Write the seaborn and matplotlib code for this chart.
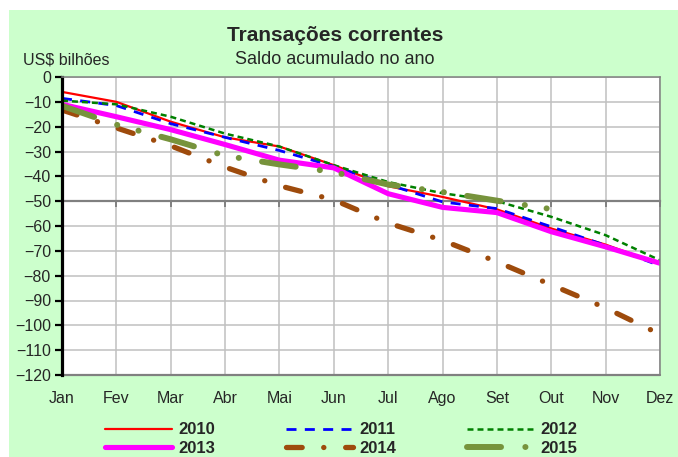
import numpy as np
import matplotlib
matplotlib.use('Agg')
import matplotlib.pyplot as plt
import seaborn as sns
from matplotlib.patches import Rectangle

# Saldo acumulado no ano (US$ bilhões)
meses = ['Jan', 'Fev', 'Mar', 'Abr', 'Mai', 'Jun', 'Jul', 'Ago', 'Set', 'Out', 'Nov', 'Dez']
saldo_2010 = [-6.0, -10.0, -18.0, -24.3, -28.0, -35.5, -44.0, -48.3, -53.3, -61.0, -67.5, -75.3]
saldo_2011 = [-8.6, -11.5, -18.8, -24.3, -29.6, -36.0, -43.3, -50.3, -53.0, -60.3, -67.8, -76.0]
saldo_2012 = [-9.5, -11.0, -16.0, -22.8, -28.0, -35.5, -42.3, -46.8, -50.0, -56.3, -63.7, -73.8]
saldo_2013 = [-11.0, -16.0, -21.2, -27.2, -33.5, -36.6, -47.0, -52.5, -54.6, -62.3, -68.4, -75.0]
saldo_2014 = [-13.3, -20.5, -27.7, -36.3, -43.8, -49.5, -58.8, -65.8, -74.4, -83.7, -93.0, -103.6]
saldo_2015 = [-11.6, -19.2, -25.1, -31.7, -35.2, -38.3, -43.3, -46.3, -49.8, -53.2]

anos = ['2010', '2011', '2012', '2013', '2014', '2015']
series = [saldo_2010, saldo_2011, saldo_2012, saldo_2013, saldo_2014, saldo_2015]

# estilos (cor, espessura, traço)
estilos = [
    dict(color='#FF0000', lw=1.6, linestyle='-'),
    dict(color='#0000FF', lw=2.0, linestyle=(0, (7.2, 6))),
    dict(color='#008000', lw=1.8, linestyle=(0, (4.3, 2.9))),
    dict(color='#FF00FF', lw=3.7, linestyle='-', solid_capstyle='round'),
    dict(color='#9E4B0C', lw=3.8, linestyle=(0, (11.3, 15.5, 0.1, 15.7)), dash_capstyle='round'),
    dict(color='#77933C', lw=4.3, linestyle=(0, (24.5, 17.5, 0.1, 15.8, 0.1, 16.9)), dash_capstyle='round'),
]

sns.set_style('white')
plt.rcParams['font.family'] = ['Liberation Sans', 'DejaVu Sans']
plt.rcParams['lines.scale_dashes'] = False

W, H = 678, 457
fig = plt.figure(figsize=(W / 100, H / 100), dpi=100)
fig.patch.set_facecolor('white')
fig.add_artist(Rectangle((9 / W, 0), 1 - 9 / W, (H - 10) / H, transform=fig.transFigure,
                         facecolor='#CCFFCC', edgecolor='none', zorder=-1))

ax = fig.add_axes([62 / W, 1 - 375 / H, 598 / W, 298 / H])
ax.set_facecolor('white')

pos = np.arange(len(meses))
handles = []
for ano, vals, st in zip(anos, series, estilos):
    sns.lineplot(x=pos[:len(vals)], y=vals, ax=ax, errorbar=None, sort=False, **st)
    handles.append(ax.lines[-1])

ax.set_xlim(0, 11)
ax.set_ylim(-120, 0)
ax.set_yticks(np.arange(-120, 1, 10))
ax.set_xticks(pos)
ax.grid(True, color='#C0C0C0', lw=1.1)
ax.set_axisbelow(True)

# eixo horizontal cruza em -50, rótulos embaixo
ax.spines['bottom'].set_position(('data', -50))
ax.spines['bottom'].set_color('#808080')
ax.spines['bottom'].set_linewidth(1.6)
ax.spines['bottom'].set_zorder(1.5)
ax.spines['left'].set_color('black')
ax.spines['left'].set_linewidth(2.3)
for s in ['top', 'right']:
    ax.spines[s].set_color('#808080')
    ax.spines[s].set_linewidth(1.1)
ax.axhline(-120, color='#808080', lw=1.6, clip_on=False, zorder=1.5)

ax.tick_params(axis='x', bottom=True, direction='out', length=4, width=1.4,
               color='#808080', labelbottom=False)
ax.tick_params(axis='y', left=True, direction='out', length=5, width=1.6,
               color='black', labelsize=11.5, pad=3)

sec = ax.secondary_xaxis(0)
sec.set_xticks(pos, labels=meses)
sec.tick_params(length=0, pad=11.5, labelsize=11.5)
sec.spines['bottom'].set_visible(False)

fig.text(335 / W, 1 - 41 / H, 'Transações correntes', ha='center', va='baseline',
         fontsize=15, weight='bold')
fig.text(335 / W, 1 - 63.5 / H, 'Saldo acumulado no ano', ha='center', va='baseline',
         fontsize=13)
fig.text(23 / W, 1 - 65 / H, 'US$ bilhões', ha='left', va='baseline', fontsize=11.5)

ordem = [0, 3, 1, 4, 2, 5]
fig.legend([handles[i] for i in ordem], [anos[i] for i in ordem], ncol=3, loc='center',
           bbox_to_anchor=(341 / W, 1 - 439 / H), frameon=False,
           prop={'weight': 'bold', 'size': 12}, handlelength=4.0, handletextpad=0.4,
           columnspacing=4.25, labelspacing=0.2, borderpad=0)

fig.savefig('out.png', dpi=100, facecolor='white')
